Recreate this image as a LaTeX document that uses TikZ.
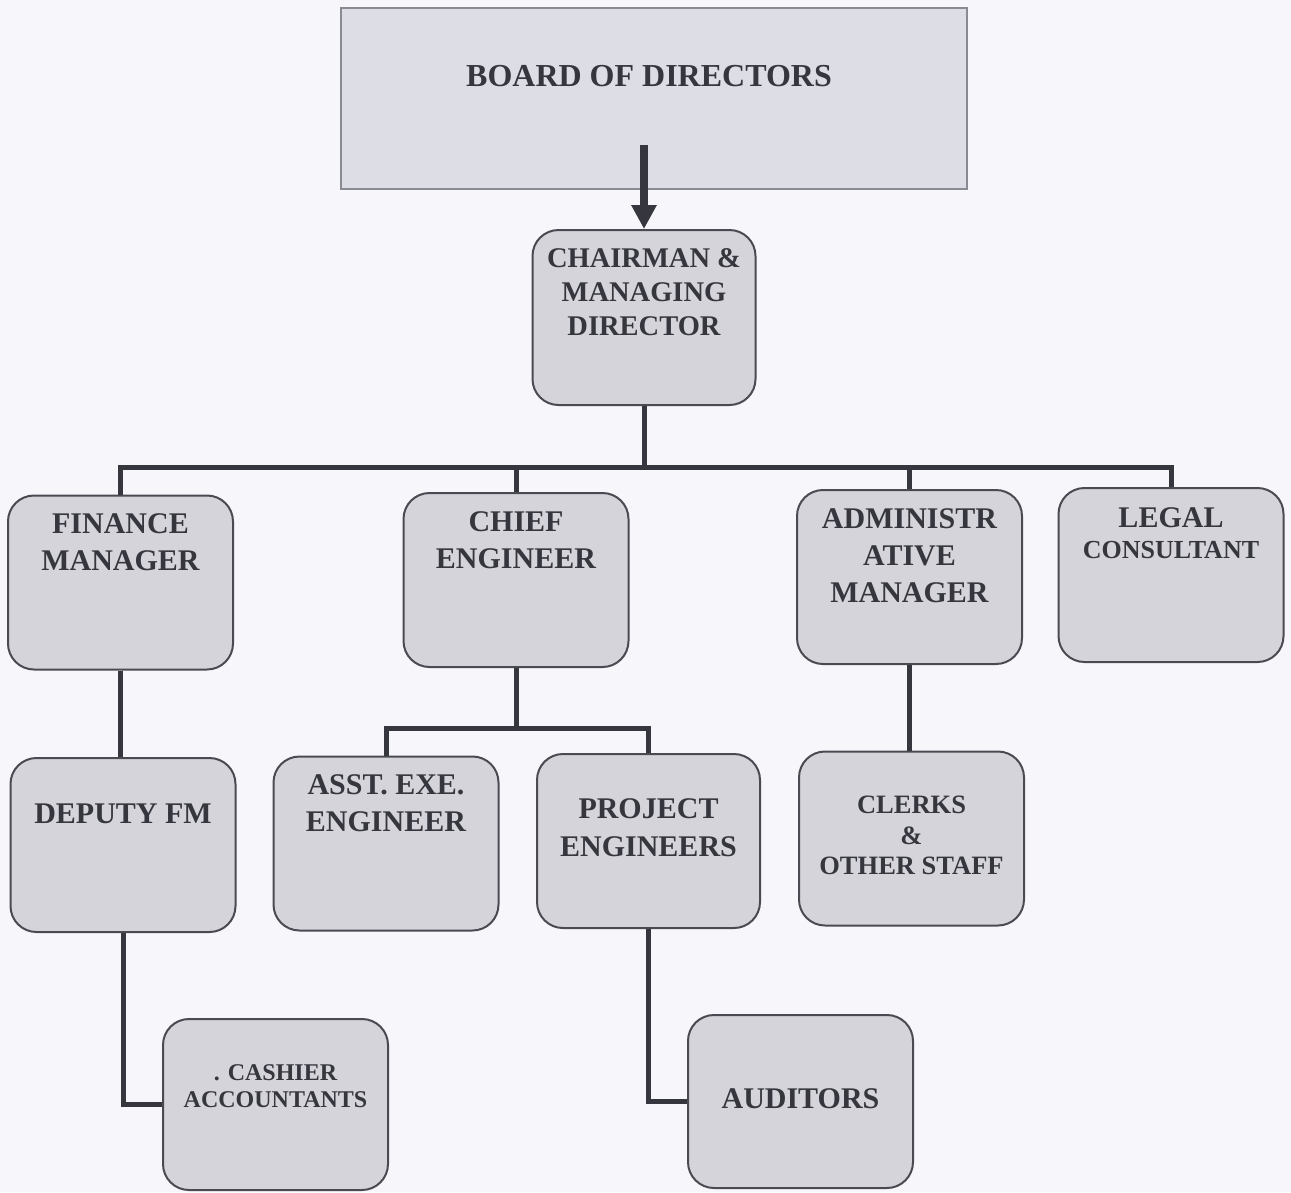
\documentclass[tikz,border=0pt]{standalone}
\usepackage{fontspec}
\setmainfont{Liberation Serif}
\usetikzlibrary{arrows.meta,calc}
\definecolor{bgc}{HTML}{F6F6FB}
\definecolor{boardfill}{HTML}{DDDDE5}
\definecolor{boardline}{HTML}{8A8A92}
\definecolor{boxfill}{HTML}{D4D4DA}
\definecolor{boxline}{HTML}{4A4A52}
\definecolor{ink}{HTML}{36363E}
\begin{document}
\begin{tikzpicture}[x=1pt,y=-1pt,
  boardbox/.style={draw=boardline, line width=1.5pt, fill=boardfill, rectangle, inner sep=0pt},
  orgbox/.style={draw=boxline, line width=2pt, fill=boxfill, rounded corners=26pt, inner sep=0pt, minimum width=225pt, minimum height=174pt},
  lbl/.style={text=ink, font=\bfseries, align=center, inner sep=0pt},
  conn/.style={draw=ink, line width=5pt},
  bigarrow/.style={draw=ink, line width=8pt, -{Triangle[length=24pt,width=24pt]}}
]
\fill[bgc] (0,0) rectangle (1291,1192);
\useasboundingbox (0,0) rectangle (1291,1192);

% boxes
\node[boardbox, minimum width=626pt, minimum height=181pt] (board) at (654,98.5) {};
\node[orgbox, minimum width=223pt, minimum height=175pt] (cmd) at (644,317.5) {};
\node[orgbox] (fin) at (120.5,582.5) {};
\node[orgbox] (chief) at (516,580) {};
\node[orgbox] (admin) at (909.5,577) {};
\node[orgbox] (legal) at (1171,575) {};
\node[orgbox] (dep) at (123,845) {};
\node[orgbox] (asst) at (386,843.5) {};
\node[orgbox, minimum width=223pt] (proj) at (648.5,841) {};
\node[orgbox] (clerks) at (911.5,838.5) {};
\node[orgbox, minimum height=171pt] (cash) at (275.5,1104.5) {};
\node[orgbox, minimum height=173pt] (aud) at (800.5,1101.5) {};

% labels
\node[lbl, font=\bfseries\fontsize{32}{38}\selectfont] (tboard) at (649,76) {BOARD OF DIRECTORS};
\node[lbl, font=\bfseries\fontsize{28.5}{34}\selectfont] (tcmd) at (644,292) {CHAIRMAN \&\\MANAGING\\DIRECTOR};
\node[lbl, font=\bfseries\fontsize{30}{37}\selectfont] (tfin) at (120.5,542.5) {FINANCE\\MANAGER};
\node[lbl, font=\bfseries\fontsize{30}{37}\selectfont] (tchief) at (516,540) {CHIEF\\ENGINEER};
\node[lbl, font=\bfseries\fontsize{30}{37}\selectfont] (tadmin) at (909.5,556) {ADMINISTR\\ATIVE\\MANAGER};
\node[lbl, font=\bfseries\fontsize{30}{37}\selectfont] (tlegal) at (1171,518) {LEGAL};
\node[lbl, font=\bfseries\fontsize{26}{30}\selectfont] (tcons) at (1171,550) {CONSULTANT};
\node[lbl, font=\bfseries\fontsize{30}{37}\selectfont] (tdep) at (123,814) {DEPUTY FM};
\node[lbl, font=\bfseries\fontsize{30}{37}\selectfont] (tasst) at (386,803.5) {ASST. EXE.\\ENGINEER};
\node[lbl, font=\bfseries\fontsize{30}{38}\selectfont] (tproj) at (648.5,828) {PROJECT\\ENGINEERS};
\node[lbl, font=\bfseries\fontsize{26.5}{30.5}\selectfont] (tclerks) at (911.5,835.5) {CLERKS\\\&\\OTHER STAFF};
\node[lbl, font=\bfseries\fontsize{24}{27}\selectfont] (tcash) at (275.5,1086.5) {. CASHIER\\ACCOUNTANTS};
\node[lbl, font=\bfseries\fontsize{30}{37}\selectfont] (taud) at (800.5,1099) {AUDITORS};

% connectors
\coordinate (arrstart) at (644,145);
\draw[bigarrow] (arrstart) -- (cmd.north);

\coordinate (bus) at (644,467);
\draw[conn] (cmd.south) -- (bus);
\draw[conn] (fin.north) |- (bus) -| (legal.north);
\draw[conn] (chief.north) -- (chief.north |- bus);
\draw[conn] (admin.north) -- (admin.north |- bus);

\draw[conn] (fin.south) -- (fin.south |- dep.north);

\coordinate (cebus) at (516,728);
\draw[conn] (chief.south) -- (cebus);
\draw[conn] (asst.north) |- (cebus) -| (proj.north);

\draw[conn] (admin.south) -- (admin.south |- clerks.north);

\draw[conn] (dep.south) |- (cash.west);
\draw[conn] (proj.south) |- (aud.west);
\end{tikzpicture}
\end{document}
